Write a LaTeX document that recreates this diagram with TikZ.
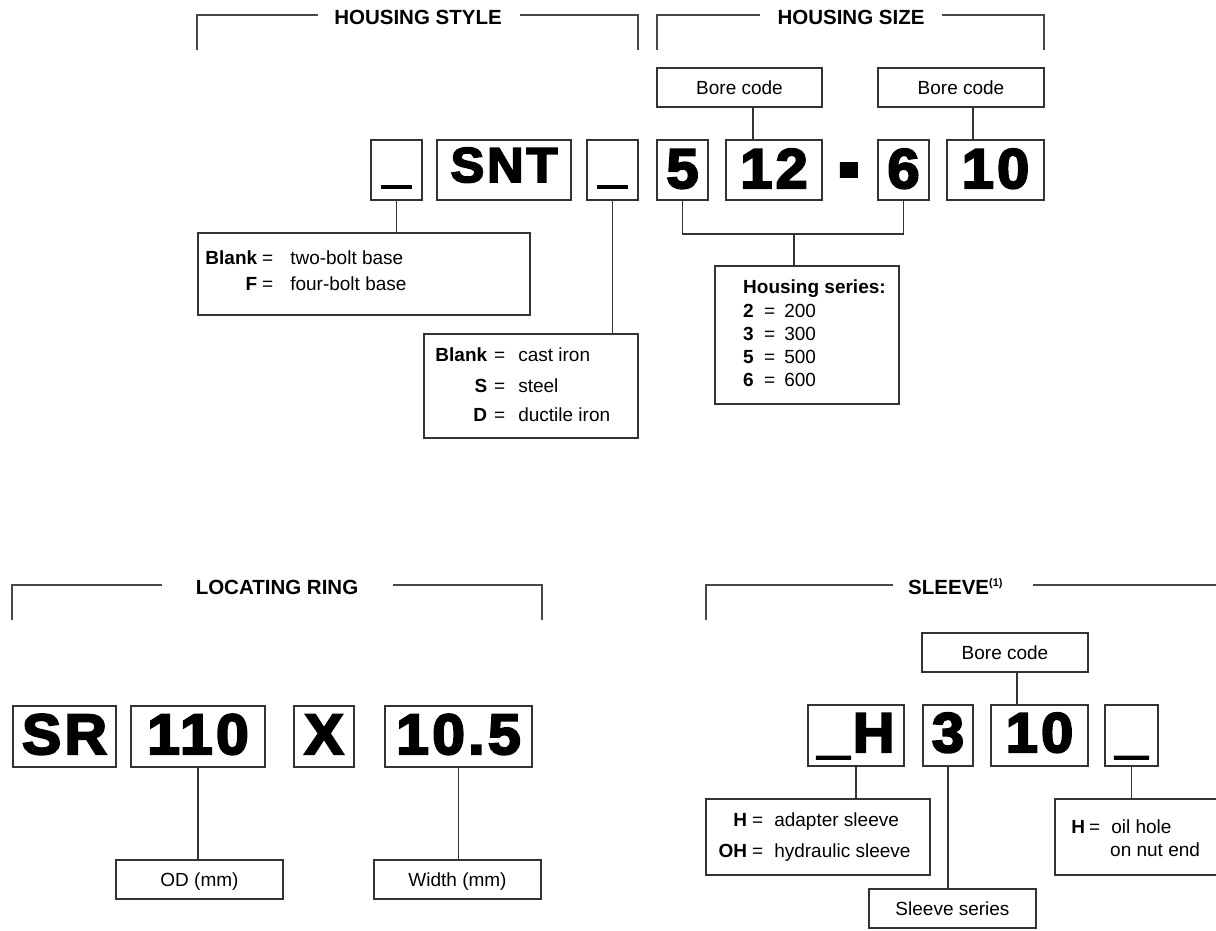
\documentclass[tikz,border=0pt]{standalone}
\usepackage{fontspec}
\setmainfont{Liberation Sans}
\newfontfamily\heavy[FakeBold=3.8,FakeStretch=1.03,LetterSpace=6]{Liberation Sans Bold}
\begin{document}
\begin{tikzpicture}[x=1pt,y=-1pt,
  ln/.style={draw=black!80, line width=1.1pt},
  brk/.style={draw=black!72, line width=1.4pt},
  box/.style={draw=black!80, line width=1.1pt, inner sep=0pt},
  ttl/.style={font=\bfseries\fontsize{20.5}{20.5}\selectfont, inner sep=0pt, anchor=base},
  cA/.style={box, font=\heavy\fontsize{49}{49}\selectfont, text height=35pt, text depth=11pt},
  cB/.style={box, font=\heavy\fontsize{56}{56}\selectfont, text height=40pt, text depth=4pt},
  cC/.style={box, font=\heavy\fontsize{57}{57}\selectfont, text height=41pt, text depth=6pt},
  cD/.style={box, font=\heavy\fontsize{56}{56}\selectfont, text height=40pt, text depth=7pt},
  lbl/.style={box, font=\fontsize{19}{19}\selectfont, text height=13.6pt, text depth=0pt},
  txt/.style={font=\fontsize{19}{23}\selectfont, inner sep=0pt, anchor=base west}
]
\useasboundingbox (0,0) rectangle (1216,930);
\clip (0,0) rectangle (1216,930);

% ---------- brackets and titles ----------
\coordinate (a1) at (197,50); \coordinate (a2) at (197,15); \coordinate (a3) at (318,15);
\coordinate (a4) at (520,15); \coordinate (a5) at (638,15); \coordinate (a6) at (638,50);
\draw[brk] (a1) -- (a2) -- (a3);
\draw[brk] (a4) -- (a5) -- (a6);
\node[ttl] (tstyle) at (418,24) {HOUSING STYLE};

\coordinate (b1) at (657,50); \coordinate (b2) at (657,15); \coordinate (b3) at (760,15);
\coordinate (b4) at (942,15); \coordinate (b5) at (1044,15); \coordinate (b6) at (1044,50);
\draw[brk] (b1) -- (b2) -- (b3);
\draw[brk] (b4) -- (b5) -- (b6);
\node[ttl] (tsize) at (851,24) {HOUSING SIZE};

\coordinate (c1) at (12,620); \coordinate (c2) at (12,585); \coordinate (c3) at (162,585);
\coordinate (c4) at (393,585); \coordinate (c5) at (542,585); \coordinate (c6) at (542,620);
\draw[brk] (c1) -- (c2) -- (c3);
\draw[brk] (c4) -- (c5) -- (c6);
\node[ttl] (tring) at (277,594) {LOCATING RING};

\coordinate (e1) at (706,620); \coordinate (e2) at (706,585); \coordinate (e3) at (893,585);
\coordinate (e4) at (1033,585); \coordinate (e5) at (1240,585); \coordinate (e6) at (1240,620);
\draw[brk] (e1) -- (e2) -- (e3);
\draw[brk] (e4) -- (e5) -- (e6);
\node[ttl, anchor=base west] (tsleeve) at (908,594) {SLEEVE\textsuperscript{\fontsize{11}{11}\selectfont(1)}};

% ---------- housing code ----------
\node[cA, minimum width=51, minimum height=60] (u1) at (396.5,170) {\_};
\node[cA, minimum width=134, minimum height=60] (snt) at (504,170) {SNT};
\node[cA, minimum width=51, minimum height=60] (u2) at (612.5,170) {\_};
\node[cB, minimum width=51, minimum height=60] (n5) at (682.5,170) {5};
\node[cB, minimum width=96, minimum height=60] (n12) at (774,170) {12};
\node[font=\heavy\fontsize{100}{100}\selectfont, inner sep=0pt, anchor=base] (dash) at (849,196) {\scalebox{0.6}[1]{-}};
\node[cB, minimum width=51, minimum height=60] (n6) at (903.5,170) {6};
\node[cB, minimum width=97, minimum height=60] (n10) at (995.5,170) {10};

\node[lbl, minimum width=165, minimum height=39] (bc1) at (739.5,87.5) {Bore code};
\node[lbl, minimum width=166, minimum height=39] (bc2) at (961,87.5) {Bore code};

% description boxes
\node[box, minimum width=332, minimum height=82] (d1) at (364,274) {};
\node[txt] (d1a) at (204,264) {\makebox[53pt][r]{\bfseries Blank}\hspace{5pt}=\hspace{17pt}two-bolt base};
\node[txt] (d1b) at (204,290) {\makebox[53pt][r]{\bfseries F}\hspace{5pt}=\hspace{17pt}four-bolt base};

\node[box, minimum width=214, minimum height=104] (d2) at (531,386) {};
\node[txt] (d2a) at (434,361) {\makebox[53pt][r]{\bfseries Blank}\hspace{7pt}=\hspace{13pt}cast iron};
\node[txt] (d2b) at (434,392) {\makebox[53pt][r]{\bfseries S}\hspace{7pt}=\hspace{13pt}steel};
\node[txt] (d2c) at (434,421) {\makebox[53pt][r]{\bfseries D}\hspace{7pt}=\hspace{13pt}ductile iron};

\node[box, minimum width=184, minimum height=138] (hser) at (807,335) {};
\node[txt] (h0) at (743,293.5) {\bfseries Housing series:};
\node[txt] (h2) at (743,317.5) {\makebox[11pt][l]{\bfseries 2}\hspace{10pt}=\hspace{9pt}200};
\node[txt] (h3) at (743,340.5) {\makebox[11pt][l]{\bfseries 3}\hspace{10pt}=\hspace{9pt}300};
\node[txt] (h5) at (743,363.5) {\makebox[11pt][l]{\bfseries 5}\hspace{10pt}=\hspace{9pt}500};
\node[txt] (h6) at (743,386.5) {\makebox[11pt][l]{\bfseries 6}\hspace{10pt}=\hspace{9pt}600};

% connectors top
\draw[ln] (u1.south) -- (u1.south |- d1.north);
\draw[ln] (u2.south) -- (u2.south |- d2.north);
\coordinate (hb) at (794,234);
\draw[ln] (n5.south) |- (hb) -| (n6.south);
\draw[ln] (hb) -- (hb |- hser.north);
\coordinate (cx1) at (753,0);
\draw[ln] (bc1.south -| cx1) -- (n12.north -| cx1);
\coordinate (cx2) at (973,0);
\draw[ln] (bc2.south -| cx2) -- (n10.north -| cx2);

% ---------- locating ring ----------
\node[cC, minimum width=103, minimum height=61] (sr) at (64.5,736.5) {SR};
\node[cC, minimum width=134, minimum height=61] (n110) at (198,736.5) {110};
\node[cC, minimum width=60, minimum height=61] (nx) at (324,736.5) {X};
\node[cC, minimum width=147, minimum height=61] (n105) at (458.5,736.5) {10.5};
\node[lbl, minimum width=167, minimum height=39] (od) at (199.5,879.5) {OD (mm)};
\node[lbl, minimum width=167, minimum height=39] (wd) at (457.5,879.5) {Width (mm)};
\draw[ln] (n110.south) -- (n110.south |- od.north);
\draw[ln] (n105.south) -- (n105.south |- wd.north);

% ---------- sleeve ----------
\node[lbl, minimum width=166, minimum height=39] (bc3) at (1005,652.5) {Bore code};
\node[cD, minimum width=96, minimum height=61] (sh) at (856,735.5) {\_H};
\node[cD, minimum width=50, minimum height=61] (s3) at (948,735.5) {3};
\node[cD, minimum width=97, minimum height=61] (s10) at (1039.5,735.5) {10};
\node[cD, minimum width=53, minimum height=61] (su) at (1131.5,735.5) {\_};

\node[box, minimum width=224, minimum height=76] (hbox) at (818,837) {};
\node[txt] (ha) at (712,826) {\makebox[35pt][r]{\bfseries H}\hspace{5pt}=\hspace{11pt}adapter sleeve};
\node[txt] (hbb) at (712,857) {\makebox[35pt][r]{\bfseries OH}\hspace{5pt}=\hspace{11pt}hydraulic sleeve};

\node[box, minimum width=185, minimum height=76] (obox) at (1147.5,837) {};
\node[txt] (oa) at (1071,833) {\makebox[14pt][r]{\bfseries H}\hspace{4pt}=\hspace{11pt}oil hole};
\node[txt] (ob) at (1110,856) {on nut end};

\node[lbl, minimum width=167, minimum height=39] (ss) at (952.5,908.5) {Sleeve series};

\coordinate (cx3) at (1017,0);
\draw[ln] (bc3.south -| cx3) -- (s10.north -| cx3);
\draw[ln] (sh.south) -- (sh.south |- hbox.north);
\draw[ln] (s3.south) -- (s3.south |- ss.north);
\draw[ln] (su.south) -- (su.south |- obox.north);
\end{tikzpicture}
\end{document}
